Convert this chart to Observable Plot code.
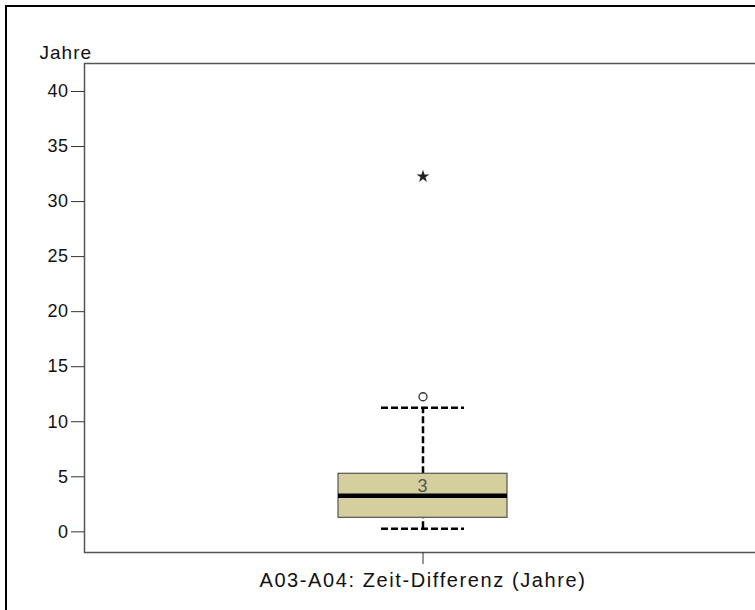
<!DOCTYPE html>
<html>
<head>
<meta charset="utf-8">
<script src="https://cdn.jsdelivr.net/npm/d3@7"></script>
<script src="https://cdn.jsdelivr.net/npm/@observablehq/plot@0.6"></script>
<style>
  html, body { margin: 0; padding: 0; background: #fff; overflow: hidden; width: 755px; height: 610px; }
  #outer { position: absolute; left: 5px; top: 5px; width: 900px; height: 800px;
           border-left: 2.5px solid #000; border-top: 2.5px solid #000; }
  #chart { position: absolute; left: 0; top: 0; width: 780px; height: 610px; }
  #chart svg { max-width: none !important; }
  #chart g[aria-label="x-axis tick label"] text { letter-spacing: 1.6px; }
  #chart g[aria-label="y-axis tick label"] text { letter-spacing: 0.5px; }
  #chart g[aria-label="text"] text { letter-spacing: 1px; }
</style>
</head>
<body>
<div id="outer"></div>
<div id="chart"></div>
<script>
// Data
const categories = ["A03-A04: Zeit-Differenz (Jahre)"];
const minimum = [0];
const q1 = [1];
const median = [3];
const q3 = [5];
const maximum = [11];
const outlierValues = [12];   // circle
const extremeValues = [32];   // star
const yTicks = [0, 5, 10, 15, 20, 25, 30, 35, 40];
const yLabel = "Jahre";

const rows = categories.map((c, i) => ({
  cat: c, min: minimum[i], q1: q1[i], med: median[i], q3: q3[i], max: maximum[i]
}));
const outliers = outlierValues.map(v => ({cat: categories[0], v}));
const extremes = extremeValues.map(v => ({cat: categories[0], v}));

const chart = Plot.plot({
  width: 780,
  height: 610,
  marginLeft: 84,
  marginRight: 18,
  marginTop: 63,
  marginBottom: 58,
  style: {fontFamily: "Liberation Sans, Arial, sans-serif", fontSize: "18px", background: "transparent", color: "#111", maxWidth: "none"},
  x: {type: "band", domain: categories, padding: 0.6, label: null},
  y: {domain: [-2.15, 42.27], label: null},
  marks: [
    Plot.frame({stroke: "#555", strokeWidth: 1.5}),
    Plot.axisY(yTicks, {tickSize: 13, tickPadding: 3, fontSize: 18, dy: 3, stroke: "#333", label: null}),
    Plot.axisX({tickSize: 12, tickPadding: 8, fontSize: 20, stroke: "#333", label: null}),
    Plot.text([yLabel], {frameAnchor: "top-left", text: d => d, dx: -45, dy: -5, textAnchor: "start", lineAnchor: "bottom", fontSize: 19}),
    // whiskers
    Plot.ruleX(rows, {x: "cat", y1: "q3", y2: "max", stroke: "#000", strokeWidth: 2.5, strokeDasharray: "7,3"}),
    Plot.ruleX(rows, {x: "cat", y1: "min", y2: "q1", stroke: "#000", strokeWidth: 2.5, strokeDasharray: "7,3"}),
    Plot.tickY(rows, {x: "cat", y: "max", stroke: "#000", strokeWidth: 2.5, strokeDasharray: "7,3", insetLeft: 43, insetRight: 43}),
    Plot.tickY(rows, {x: "cat", y: "min", stroke: "#000", strokeWidth: 2.5, strokeDasharray: "7,3", insetLeft: 43, insetRight: 43}),
    // box
    Plot.barY(rows, {x: "cat", y1: "q1", y2: "q3", fill: "#d4cf9c", stroke: "#555", strokeWidth: 1.2}),
    Plot.tickY(rows, {x: "cat", y: "med", stroke: "#000", strokeWidth: 4.5}),
    Plot.text(rows, {x: "cat", y: "med", text: d => String(d.med), dy: -10, fill: "#555", fontSize: 18}),
    // outliers
    Plot.dot(outliers, {x: "cat", y: "v", r: 4, stroke: "#333", strokeWidth: 1.3, fill: "#fff"}),
    Plot.dot(extremes, {x: "cat", y: "v", symbol: "star", r: 4, fill: "#222", stroke: "none"})
  ]
});
document.getElementById("chart").appendChild(chart);
</script>
</body>
</html>
